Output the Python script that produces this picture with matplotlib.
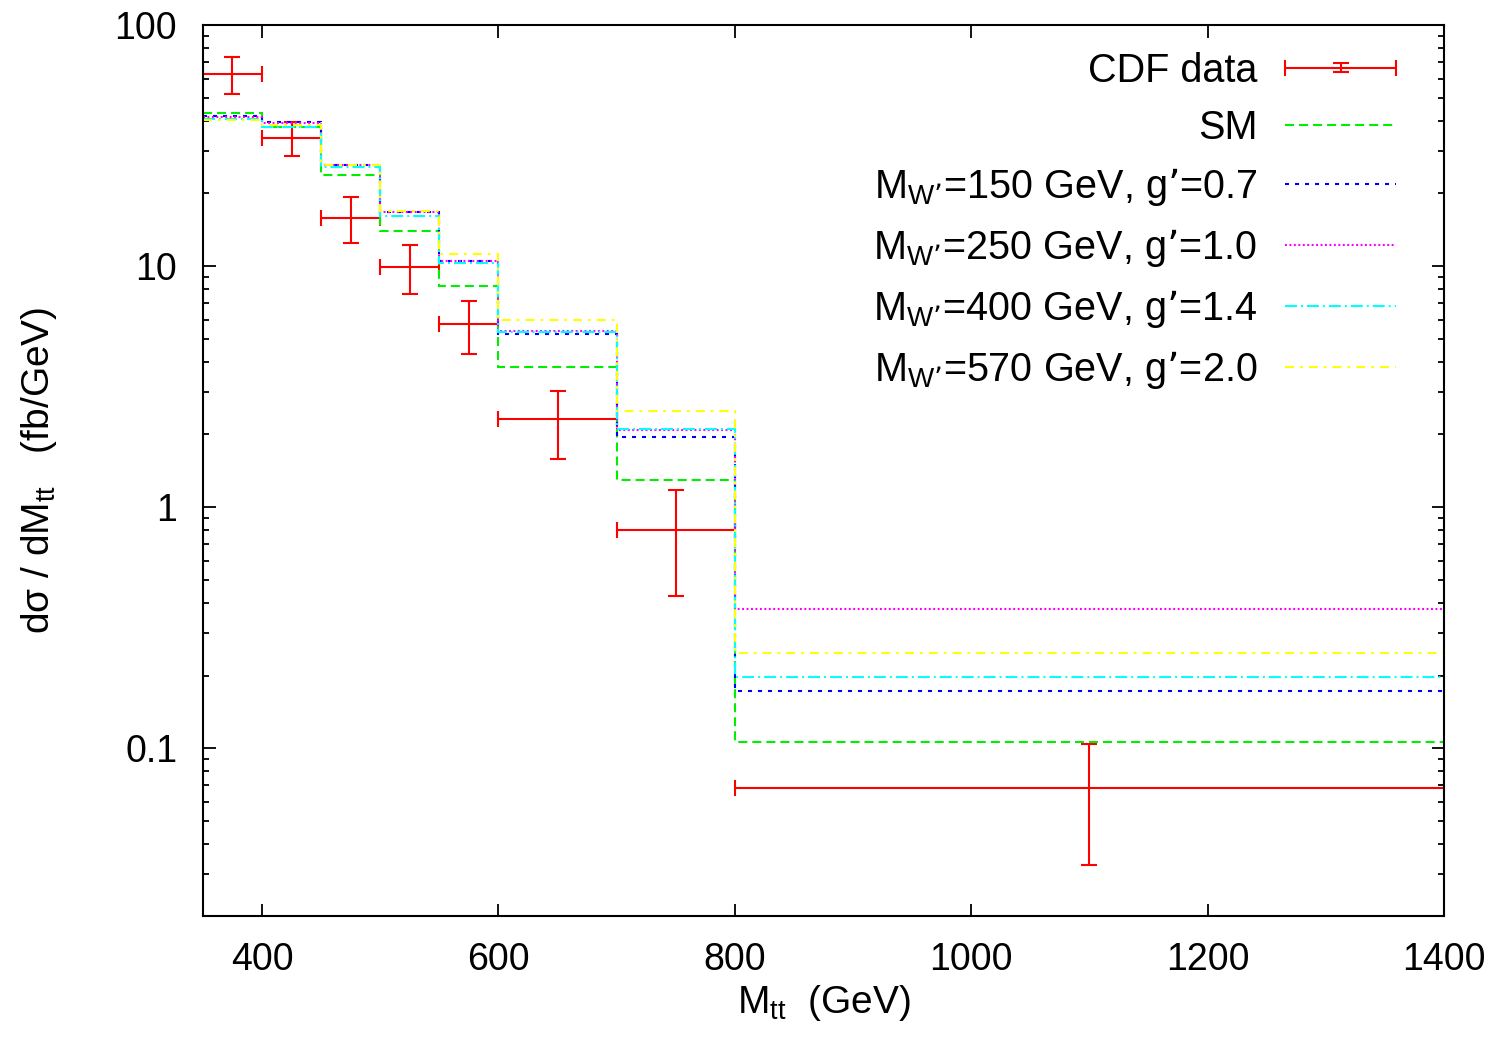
import matplotlib
matplotlib.use("Agg")
import matplotlib.pyplot as plt
from matplotlib.legend_handler import HandlerErrorbar
from matplotlib.ticker import FixedLocator, FuncFormatter, LogLocator, NullFormatter
import numpy as np

plt.rcParams['font.family'] = ['Liberation Sans', 'DejaVu Sans']
plt.rcParams['mathtext.default'] = 'regular'
plt.rcParams['lines.scale_dashes'] = False

# bin edges (GeV)
edges = [350, 400, 450, 500, 550, 600, 700, 800, 1400]

# CDF data
data_x = [375, 425, 475, 525, 575, 650, 750, 1100]
data_xerr = [25, 25, 25, 25, 25, 50, 50, 300]
data_y = [62.6, 34.0, 15.8, 9.94, 5.73, 2.31, 0.803, 0.0682]
data_up = [73.9, 39.5, 19.3, 12.2, 7.14, 3.04, 1.18, 0.104]
data_lo = [51.6, 28.6, 12.5, 7.65, 4.31, 1.58, 0.427, 0.0326]

# model predictions per bin
sm = [43.1, 37.6, 23.8, 14.0, 8.26, 3.82, 1.30, 0.106]
w150 = [41.9, 39.5, 26.2, 16.7, 10.5, 5.22, 1.96, 0.172]
w250 = [41.5, 39.2, 26.2, 16.7, 10.5, 5.39, 2.09, 0.376]
w400 = [40.7, 37.8, 25.8, 16.1, 10.3, 5.34, 2.11, 0.198]
w570 = [40.5, 38.4, 26.3, 17.0, 11.2, 5.95, 2.51, 0.249]

labels = ['SM',
          'M$_{W’}$=150 GeV, g’=0.7',
          'M$_{W’}$=250 GeV, g’=1.0',
          'M$_{W’}$=400 GeV, g’=1.4',
          'M$_{W’}$=570 GeV, g’=2.0']

fig = plt.figure(figsize=(15.01, 10.39), dpi=100)
ax = fig.add_axes([0.1352, 0.1184, 0.8268, 0.8575])

yerr = [np.array(data_y) - np.array(data_lo), np.array(data_up) - np.array(data_y)]
eb = ax.errorbar(data_x, data_y, xerr=data_xerr, yerr=yerr, fmt='none',
                 ecolor='#ff0000', elinewidth=1.5, capsize=5.5, capthick=1.5,
                 label='CDF data', zorder=1)

styles = [('#00ee00', (0, (6.5, 3.6))),
          ('#0000ff', (0, (2.9, 4.3))),
          ('#ff00ff', (0, (1.4, 1.8))),
          ('#00ffff', (0, (8.6, 2.9, 1.4, 2.9))),
          ('#ffff00', (0, (6.5, 4.3, 2.0, 4.3)))]
series = [sm, w150, w250, w400, w570]
handles = [eb]
for vals, (col, ls), lab in zip(series, styles, labels):
    ax.stairs(vals, edges, baseline=None, color=col, linestyle=ls,
              linewidth=1.5, zorder=2)
    line, = ax.plot([], [], color=col, linestyle=ls, linewidth=1.5, label=lab)
    handles.append(line)

ax.set_yscale('log')
ax.set_xlim(350, 1400)
ax.set_ylim(0.0201, 100)

ax.xaxis.set_major_locator(FixedLocator([400, 600, 800, 1000, 1200, 1400]))
ax.yaxis.set_major_locator(FixedLocator([0.1, 1, 10, 100]))
ax.yaxis.set_major_formatter(FuncFormatter(lambda v, p: '%g' % v))
ax.yaxis.set_minor_locator(LogLocator(base=10, subs=np.arange(2, 10)))
ax.yaxis.set_minor_formatter(NullFormatter())

ax.tick_params(which='both', direction='in', top=True, right=True,
               labelsize=27, width=1.3)
ax.tick_params(which='major', length=9)
ax.tick_params(which='minor', length=4.5)
ax.tick_params(axis='x', pad=19)
ax.tick_params(axis='y', pad=18.5)
for sp in ax.spines.values():
    sp.set_linewidth(1.5)

ax.set_xlabel('M$_{tt}$  (GeV)', fontsize=28, labelpad=3)
ax.set_ylabel('dσ / dM$_{tt}$   (fb/GeV)', fontsize=28, labelpad=40)

ax.legend(handles=handles, loc='upper right', bbox_to_anchor=(0.9742, 0.988),
          fontsize=28.5, frameon=False, markerfirst=False,
          handlelength=2.8, handletextpad=0.7, labelspacing=0.48,
          borderaxespad=0, borderpad=0.4,
          handler_map={type(eb): HandlerErrorbar(xerr_size=1.4, yerr_size=0.12)})

fig.savefig('out.png', dpi=100)
